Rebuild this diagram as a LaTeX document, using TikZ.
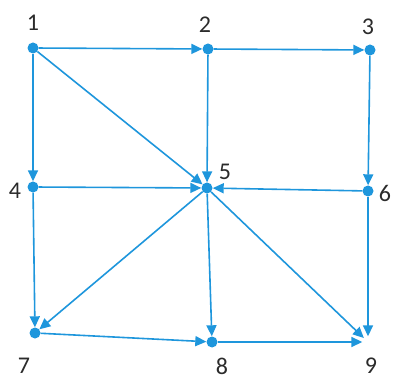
\documentclass[tikz,border=0pt]{standalone}
\usepackage{fontspec}
\setmainfont{Carlito}
\usepackage{tikz}
\usetikzlibrary{positioning,arrows.meta}
\definecolor{graphBlue}{HTML}{1E96DC}
\definecolor{labelGray}{HTML}{2B2B2B}

\begin{document}
\begin{tikzpicture}[
  x=1pt, y=1pt,
  every node/.style={font=\fontsize{24}{24}\selectfont},
  vtx/.style={circle, fill=graphBlue, inner sep=0pt, minimum size=11pt},
  lbl/.style={text=labelGray, inner sep=0pt},
  arr/.style={-{Triangle[length=11pt,width=10pt]}, graphBlue, line width=1.6pt}
]
\useasboundingbox (0,0) rectangle (393,380);
\node[vtx] (n1) at (33,332) {};
\node[vtx] (n2) at (208,331) {};
\node[vtx] (n3) at (370,330) {};
\node[vtx] (n4) at (33,193) {};
\node[vtx] (n5) at (207,192) {};
\node[vtx] (n6) at (368,189) {};
\node[vtx] (n7) at (35,47) {};
\node[vtx] (n8) at (212,38) {};
\node[vtx, fill=none] (n9) at (368,38) {};
% labels
\node[lbl] (l1) at (33,357) {1};
\node[lbl] (l2) at (205,355) {2};
\node[lbl] (l3) at (368,353) {3};
\node[lbl] (l4) at (15,189) {4};
\node[lbl] (l5) at (225,208) {5};
\node[lbl] (l6) at (385,187) {6};
\node[lbl] (l7) at (24,14) {7};
\node[lbl] (l8) at (222,14) {8};
\node[lbl] (l9) at (371,14) {9};
% edges
\draw[arr] (n1) -- (n2);
\draw[arr] (n2) -- (n3);
\draw[arr] (n1) -- (n4);
\draw[arr] (n1) -- (n5);
\draw[arr] (n2) -- (n5);
\draw[arr] (n3) -- (n6);
\draw[arr] (n4) -- (n5);
\draw[arr] (n6) -- (n5);
\draw[arr] (n4) -- (n7);
\draw[arr] (n5) -- (n7);
\draw[arr] (n5) -- (n8);
\draw[arr] (n5) -- (n9);
\draw[arr] (n7) -- (n8);
\draw[arr] (n8) -- (n9);
\draw[arr] (n6) -- (n9);
\end{tikzpicture}
\end{document}
